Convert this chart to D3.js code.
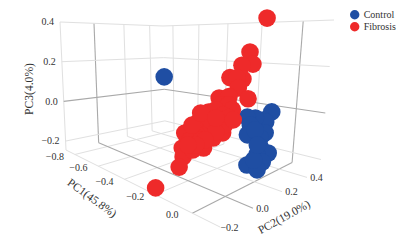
<!DOCTYPE html>
<html>
<head>
<meta charset="utf-8">
<script src="https://cdn.jsdelivr.net/npm/d3@7"></script>
<style>
html,body{margin:0;padding:0;background:#fff;}
svg{display:block;}
text{font-family:"Liberation Serif","Times New Roman",serif;fill:#333;}
</style>
</head>
<body>
<svg id="chart" width="417" height="240"></svg>
<script>
// ---- data ----
const pc1Ticks = [-0.8, -0.6, -0.4, -0.2, 0];
const pc2Ticks = [-0.2, 0, 0.2, 0.4];
const pc3Ticks = [-0.2, 0, 0.2, 0.4];
const seriesNames = ["Control", "Fibrosis"];
const seriesColors = ["#1f4ea3", "#ee2a2a"];
const axisTitles = ["PC1(45.8%)", "PC2(19.0%)", "PC3(4.0%)"];

const controlPC1 = [.065,.029,.04,-.008,-.05,-.033,-.046,.04,.018,.02,.058,.007,.033,-.042,.011,-.008,-.565,-.008,.007];
const controlPC2 = [.2,.2,.2,.2,.2,.2,.2,.2,.2,.2,.2,.2,.2,.2,.2,.2,.2,.2,.2];
const controlPC3 = [.041,.004,-.002,.006,.003,-.026,-.068,-.044,-.068,-.102,-.118,-.137,-.159,-.189,-.195,-.161,.125,-.042,-.098];

const fibrosisPC1 = [.083,.014,.029,-.0225,-.082,-.015,-.046,-.0375,
  .083,-.054,-.003,-.046,-.004,.014,-.108,-.071,-.033,-.004,
  .043,0,-.033,-.079,.022,-.017,-.05,-.083,-.133,-.15,-.121,-.067,-.163,-.158,-.179,-.108,-.017,-.23,
  .05,.011,-.042,-.092,-.112,-.067,.011,-.133,.09];
const fibrosisPC2 = [.117,.117,.117,.117,.117,.117,.117,.117,
  .014,.014,.014,.014,.014,.014,.014,.014,.014,.014,
  -.079,-.079,-.079,-.079,-.079,-.079,-.079,-.079,-.079,-.079,-.079,-.079,-.079,-.079,-.079,-.079,-.079,-.17,
  -.079,-.079,-.079,-.079,-.079,-.079,-.079,-.079,-.079];
const fibrosisPC3 = [.396,.271,.226,.219,.167,.167,.168,.13,
  .114,.101,.112,.077,.082,.067,.041,.055,.041,.036,
  .005,-.021,.029,.022,.028,.004,-.065,-.026,-.024,-.031,-.051,-.041,-.09,-.122,-.166,-.085,.039,-.236,
  .032,.001,-.035,-.063,.005,.056,.05,-.072,.056];

// ---- scene projection: scales to box fractions, then box corners to the screen ----
const uScale = d3.scaleLinear().domain([-0.85,-0.8,-0.6,-0.4,-0.2,0,0.13]).range([0,.058,.21,.38,.58,.82,1]);
const vScale = d3.scaleLinear().domain([-0.2,0,0.2,0.4,0.5]).range([0,.33,.62,.87,1]);
const wScale = d3.scaleLinear().domain([-0.245,0.4]).range([0,1]);
const corners = {
  L:[66,150], B:[165,128], R:[320,170], F:[220,227],
  TL:[60,22], TB:[163,26], TR:[334,20], TF:[222,13]
};
const mix = (a,b,t)=>[a[0]+(b[0]-a[0])*t, a[1]+(b[1]-a[1])*t];
function boxPoint(u,v,w){
  const floorP = mix(mix(corners.L,corners.B,v), mix(corners.F,corners.R,v), u);
  const topP   = mix(mix(corners.TL,corners.TB,v), mix(corners.TF,corners.TR,v), u);
  return mix(floorP, topP, w);
}
const project = (a,b,c)=>boxPoint(uScale(a),vScale(b),wScale(c));

const U0=uScale.domain()[0], U1=uScale.domain().at(-1);
const V0=vScale.domain()[0], V1=vScale.domain().at(-1);
const W0=wScale.domain()[0], W1=wScale.domain().at(-1);

const svg = d3.select("#chart");
const lineGen = d3.line();
const gridG = svg.append("g").attr("fill","none");
function seg(p,q,zero){
  gridG.append("path").attr("d",lineGen([p,q]))
    .attr("stroke",zero?"#a9a9a9":"#e0e0e0").attr("stroke-width",zero?1.1:1);
}
// floor
pc1Ticks.forEach(t=>seg(project(t,V0,W0),project(t,V1,W0),t===0));
pc2Ticks.forEach(t=>seg(project(U0,t,W0),project(U1,t,W0),t===0));
// left wall
pc2Ticks.forEach(t=>seg(project(U0,t,W0),project(U0,t,W1),t===0));
pc3Ticks.forEach(t=>seg(project(U0,V0,t),project(U0,V1,t),t===0));
// right wall
pc1Ticks.forEach(t=>seg(project(t,V1,W0),project(t,V1,W1),t===0));
pc3Ticks.forEach(t=>seg(project(U0,V1,t),project(U1,V1,t),t===0));

// tick labels
const fmt = d3.format(".1f");
const tickG = svg.append("g").attr("font-size",10);
pc3Ticks.forEach(t=>{const p=project(U0,V0,t);
  tickG.append("text").attr("x",p[0]-6).attr("y",p[1]).attr("text-anchor","end").attr("dy","0.33em").text(fmt(t));});
pc1Ticks.forEach(t=>{const p=project(t,V0,W0);
  tickG.append("text").attr("x",p[0]-20).attr("y",p[1]+2).attr("text-anchor","middle").attr("dy","0.33em").text(fmt(t));});
pc2Ticks.forEach(t=>{const p=project(U1,t,W0);
  tickG.append("text").attr("x",p[0]+9.5).attr("y",p[1]+0.5).attr("text-anchor","middle").attr("dy","0.33em").text(fmt(t));});

// axis titles
[[92,198,36],[284,217,-29],[29,89,-90]].forEach((d,i)=>{
  svg.append("text").attr("transform",`translate(${d[0]},${d[1]}) rotate(${d[2]})`)
    .attr("text-anchor","middle").attr("dy","0.33em").attr("font-size",11.6).text(axisTitles[i]);
});

// points
const R = 8.8;
const series = [
  {c:seriesColors[0], x:controlPC1, y:controlPC2, z:controlPC3},
  {c:seriesColors[1], x:fibrosisPC1, y:fibrosisPC2, z:fibrosisPC3}
];
series.forEach(s=>{
  svg.append("g").attr("fill",s.c).selectAll("circle").data(s.x.map((_,i)=>project(s.x[i],s.y[i],s.z[i])))
    .join("circle").attr("cx",d=>d[0]).attr("cy",d=>d[1]).attr("r",R);
});

// legend
const leg = svg.append("g").selectAll("g").data(seriesNames).join("g")
  .attr("transform",(d,i)=>`translate(354.7,${14.7+i*12.1})`);
leg.append("circle").attr("r",4.7).attr("fill",(d,i)=>seriesColors[i]);
leg.append("text").attr("x",9).attr("dy","0.33em").attr("font-size",10).text(d=>d);
</script>
</body>
</html>
